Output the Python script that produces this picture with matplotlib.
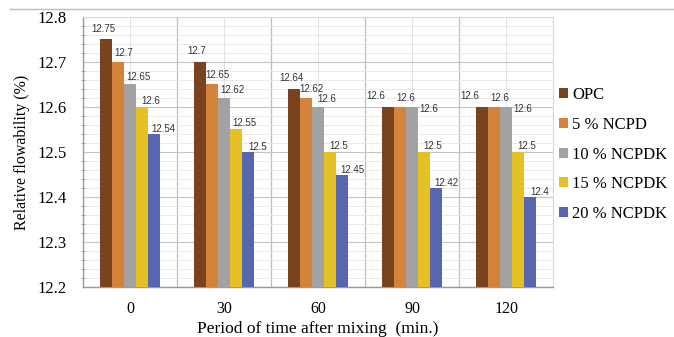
import matplotlib.pyplot as plt
import numpy as np
from matplotlib.lines import Line2D
from matplotlib.ticker import MultipleLocator

# Relative flowability vs. time after mixing
periods = ["0", "30", "60", "90", "120"]
series_names = ["OPC", "5 % NCPD", "10 % NCPDK", "15 % NCPDK", "20 % NCPDK"]
opc = [12.75, 12.70, 12.64, 12.60, 12.60]
ncpd_5 = [12.70, 12.65, 12.62, 12.60, 12.60]
ncpdk_10 = [12.65, 12.62, 12.60, 12.60, 12.60]
ncpdk_15 = [12.60, 12.55, 12.50, 12.50, 12.50]
ncpdk_20 = [12.54, 12.50, 12.45, 12.42, 12.40]

colors = ["#7A4320", "#D5833A", "#A2A2A2", "#E6C126", "#5866B0"]
# label nudges (points) per series so the numbers don't pile up
label_dx = [-2, 4, 6, 6, 7]
label_dy = [4, 3, 2, 1, 0]

serif = "Liberation Serif"

fig = plt.figure(figsize=(6.74, 3.37), dpi=100)
ax = fig.add_axes([0.123, 0.148, 0.698, 0.802])

x = np.arange(len(periods))
width = 0.128
all_series = [opc, ncpd_5, ncpdk_10, ncpdk_15, ncpdk_20]

for i, (name, vals) in enumerate(zip(series_names, all_series)):
    pos = x + (i - 2) * width
    ax.bar(pos, vals, width, color=colors[i], label=name, zorder=3)
    for j, (px, v) in enumerate(zip(pos, vals)):
        dx, dy = label_dx[i], label_dy[i]
        # spread out labels of equal-height neighbours
        if i == 0 and all_series[1][j] == v:
            dx -= 7
        if i == 2 and all_series[1][j] == v:
            dx += 6
            dy -= 7
        ax.annotate(f"{v:g}", (px, v), xytext=(dx, dy),
                    textcoords="offset points", ha="center", va="bottom",
                    fontsize=7, family="Liberation Sans", color="#333333",
                    zorder=4)

ax.set_xlim(-0.5, len(periods) - 0.5)
ax.set_ylim(12.2, 12.8)
ax.set_xticks(x)
ax.set_xticklabels(periods, family=serif, fontsize=11.5)
ax.yaxis.set_major_locator(MultipleLocator(0.1))
ax.yaxis.set_minor_locator(MultipleLocator(0.02))
ax.set_yticks(ax.get_yticks())
ax.set_yticklabels([f"{t:.1f}" for t in ax.get_yticks()], family=serif, fontsize=12)
ax.set_ylim(12.2, 12.8)

# grid: strong lines at major ticks / category edges, faint elsewhere
ax.grid(axis="y", which="major", color="#C4C4C4", lw=0.8, zorder=0)
ax.grid(axis="y", which="minor", color="#E6E6E6", lw=0.6, zorder=0)
for b in np.arange(0.5, len(periods) - 0.5, 1):
    ax.axvline(b, color="#BDBDBD", lw=0.9, zorder=0)
for c in x:
    ax.axvline(c, color="#E2E2E2", lw=0.7, zorder=0)

ax.tick_params(axis="x", length=0, pad=10)
ax.tick_params(axis="y", which="major", length=0, pad=12)
ax.tick_params(axis="y", which="minor", length=3, color="#9A9A9A", direction="inout")

for side in ["left", "bottom"]:
    ax.spines[side].set_color("#9A9A9A")
    ax.spines[side].set_linewidth(1.0)
for side in ["top", "right"]:
    ax.spines[side].set_color("#D8D8D8")
    ax.spines[side].set_linewidth(0.8)

ax.set_xlabel("Period of time after mixing  (min.)", family=serif, fontsize=12.5, labelpad=3)
ax.set_ylabel("Relative flowability (%)", family=serif, fontsize=11.5, labelpad=5)

ax.legend(loc="center left", bbox_to_anchor=(0.99, 0.49), frameon=False,
          prop={"family": serif, "size": 12}, handlelength=0.55,
          handleheight=0.55, handletextpad=0.25, labelspacing=0.82,
          borderaxespad=0.2)

# thin rule across the top of the figure
fig.add_artist(Line2D([0.015, 1.0], [0.973, 0.973], color="#BBBBBB", lw=1.0))

fig.savefig("out.png", dpi=100)
